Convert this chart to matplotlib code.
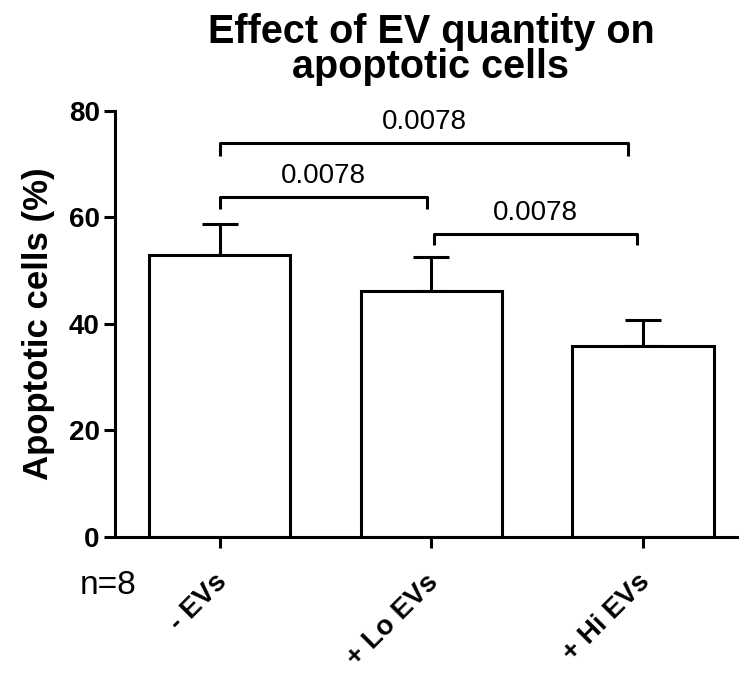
import matplotlib
matplotlib.use('Agg')
import matplotlib.pyplot as plt
from matplotlib.transforms import ScaledTranslation

plt.rcParams['font.family'] = ['Liberation Sans', 'DejaVu Sans']

# data
groups = ['- EVs', '+ Lo EVs', '+ Hi EVs']
means = [53.0, 46.2, 35.9]
sds = [5.7, 6.3, 4.9]

# significance brackets: (from, to, bar height, leg bottom, label)
brackets = [
    (0.0, 1.93, 74.0, 71.6, '0.0078'),
    (0.0, 0.98, 63.8, 61.6, '0.0078'),
    (1.01, 1.97, 56.9, 54.9, '0.0078'),
]

fig = plt.figure(figsize=(7.39, 6.73), dpi=100)
ax = fig.add_axes([0.1556, 0.2021, 0.8444, 0.633])

x = range(len(groups))
lw = 2.2
ax.bar(x, means, width=0.667, color='white', edgecolor='black', linewidth=lw, zorder=2)
ax.errorbar(x, means, yerr=[[0] * len(sds), sds], fmt='none', ecolor='black',
            elinewidth=lw, capsize=13, capthick=lw, zorder=1)

for x0, x1, h, leg, label in brackets:
    ax.plot([x0, x0, x1, x1], [leg, h, h, leg], color='black', linewidth=lw,
            solid_capstyle='butt', clip_on=False)
    ax.text((x0 + x1) / 2, h + 2.6, label, ha='center', va='baseline', fontsize=20)

ax.set_xlim(-0.496, 2.454)
ax.set_ylim(0, 80)
ax.set_yticks([0, 20, 40, 60, 80])
ax.set_xticks(list(x))

for side in ['top', 'right']:
    ax.spines[side].set_visible(False)
for side in ['left', 'bottom']:
    ax.spines[side].set_linewidth(lw)
ax.tick_params(axis='both', width=lw, length=8, direction='out')
ax.tick_params(axis='y', pad=3)
ax.tick_params(axis='x', pad=15)

ax.set_xticklabels(groups, rotation=45, ha='right', va='top',
                   rotation_mode='anchor', fontweight='bold', fontsize=20)
# nudge the slanted labels a little to the left, as in the original
shift = ScaledTranslation(-0.06, 0, fig.dpi_scale_trans)
for lab in ax.get_xticklabels():
    lab.set_transform(lab.get_transform() + shift)
for lab in ax.get_yticklabels():
    lab.set_fontweight('bold')
    lab.set_fontsize(20)

ax.set_ylabel('Apoptotic cells (%)', fontsize=25, fontweight='bold', labelpad=10)

# title, two lines placed by baseline
fig.text(431 / 739, 1 - 43 / 673, 'Effect of EV quantity on', fontsize=28.5,
         fontweight='bold', ha='center', va='baseline')
fig.text(431 / 739, 1 - 78 / 673, 'apoptotic cells', fontsize=28.5,
         fontweight='bold', ha='center', va='baseline')

fig.text(80 / 739, 1 - 586 / 673, 'n=8', fontsize=24, ha='left', va='center')

fig.savefig('out.png', dpi=100)
